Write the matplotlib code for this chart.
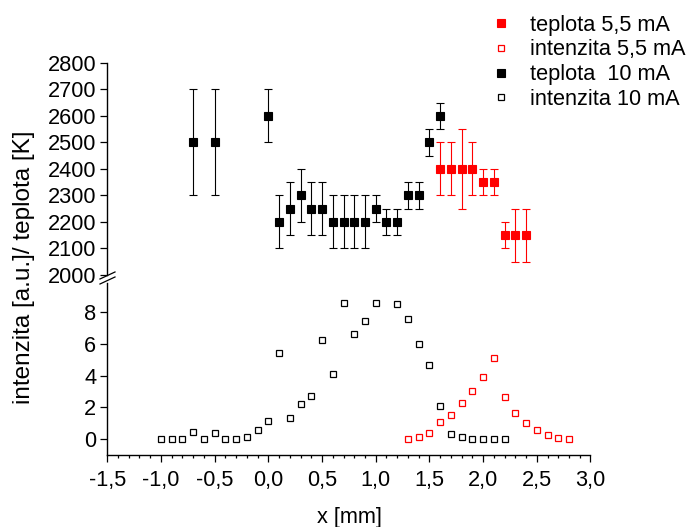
import numpy as np
import matplotlib.pyplot as plt
from matplotlib.lines import Line2D

plt.rcParams['font.family'] = ['Liberation Sans', 'DejaVu Sans']
plt.rcParams['font.size'] = 15.7

# teplota 10 mA  [K]
x_t10 = [-0.7, -0.5, 0.0, 0.1, 0.2, 0.3, 0.4, 0.5, 0.6, 0.7, 0.8, 0.9, 1.0, 1.1, 1.2, 1.3, 1.4, 1.5, 1.6]
t10 = [2500, 2500, 2600, 2200, 2250, 2300, 2250, 2250, 2200, 2200, 2200, 2200, 2250, 2200, 2200, 2300, 2300, 2500, 2600]
t10_err = [200, 200, 100, 100, 100, 100, 100, 100, 100, 100, 100, 100, 50, 50, 50, 50, 50, 50, 50]

# teplota 5,5 mA  [K]
x_t55 = [1.6, 1.7, 1.8, 1.9, 2.0, 2.1, 2.2, 2.3, 2.4]
t55 = [2400, 2400, 2400, 2400, 2350, 2350, 2150, 2150, 2150]
t55_err = [100, 100, 150, 100, 50, 50, 50, 100, 100]

# intenzita 10 mA  [a.u.]
x_i10 = [-1.0, -0.9, -0.8, -0.7, -0.6, -0.5, -0.4, -0.3, -0.2, -0.1, 0.0, 0.1, 0.2, 0.3, 0.4, 0.5,
         0.6, 0.7, 0.8, 0.9, 1.0, 1.2, 1.3, 1.4, 1.5, 1.6, 1.7, 1.8, 1.9, 2.0, 2.1, 2.2]
i10 = [0.0, 0.0, 0.0, 0.42, 0.0, 0.36, 0.0, 0.0, 0.13, 0.55, 1.16, 5.45, 1.35, 2.21, 2.70, 6.25,
       4.08, 8.57, 6.65, 7.43, 8.57, 8.52, 7.60, 5.98, 4.67, 2.10, 0.30, 0.11, 0.02, 0.02, 0.0, 0.0]

# intenzita 5,5 mA  [a.u.]
x_i55 = [1.3, 1.4, 1.5, 1.6, 1.7, 1.8, 1.9, 2.0, 2.1, 2.2, 2.3, 2.4, 2.5, 2.6, 2.7, 2.8]
i55 = [0.0, 0.15, 0.36, 1.09, 1.53, 2.25, 3.01, 3.93, 5.13, 2.65, 1.64, 1.03, 0.59, 0.25, 0.06, 0.0]

x_ticks = [-1.5, -1.0, -0.5, 0.0, 0.5, 1.0, 1.5, 2.0, 2.5, 3.0]
x_ticklabels = ['-1,5', '-1,0', '-0,5', '0,0', '0,5', '1,0', '1,5', '2,0', '2,5', '3,0']
t_ticks = [2000, 2100, 2200, 2300, 2400, 2500, 2600, 2700, 2800]
i_ticks = [0, 2, 4, 6, 8]

RED = '#ff0000'

fig = plt.figure(figsize=(6.89, 5.27), dpi=100)
ax_t = fig.add_axes([0.1557, 0.4782, 0.7013, 0.4028])
ax_i = fig.add_axes([0.1557, 0.1366, 0.7013, 0.3264])

for ax in (ax_t, ax_i):
    ax.set_xlim(-1.5, 3.0)
    ax.spines['top'].set_visible(False)
    ax.spines['right'].set_visible(False)
    ax.spines['left'].set_linewidth(1.0)
    ax.spines['bottom'].set_linewidth(1.0)
    ax.tick_params(direction='out', length=5, width=0.9, pad=3)

# horni cast - teplota
ax_t.spines['bottom'].set_visible(False)
ax_t.tick_params(axis='x', bottom=False, labelbottom=False)
ax_t.set_ylim(2000, 2800)
ax_t.set_yticks(t_ticks)

ax_t.errorbar(x_t10, t10, yerr=t10_err, fmt='none', ecolor='k', elinewidth=0.8,
              capsize=2.6, capthick=0.8, zorder=2)
ax_t.errorbar(x_t55, t55, yerr=t55_err, fmt='none', ecolor=RED, elinewidth=0.8,
              capsize=2.6, capthick=0.8, zorder=2)
h_t10, = ax_t.plot(x_t10, t10, 's', color='k', ms=5.2, mew=0.8, zorder=3, label='teplota  10 mA')
h_t55, = ax_t.plot(x_t55, t55, 's', color=RED, ms=5.2, mew=0.8, zorder=3, label='teplota 5,5 mA')

# dolni cast - intenzita
ax_i.set_ylim(-1.0, 9.85)
ax_i.set_yticks(i_ticks)
ax_i.set_xticks(x_ticks)
ax_i.set_xticklabels(x_ticklabels)
ax_i.set_xticks(np.arange(-1.5, 3.01, 0.1), minor=True)
ax_i.tick_params(axis='x', which='major', pad=6)
ax_i.tick_params(axis='x', which='minor', direction='out', length=2.5, width=0.9)

h_i10, = ax_i.plot(x_i10, i10, 's', mfc='none', mec='k', ms=5, mew=0.9, label='intenzita 10 mA')
h_i55, = ax_i.plot(x_i55, i55, 's', mfc='none', mec=RED, ms=5, mew=0.9, label='intenzita 5,5 mA')

# preruseni osy
fig.add_artist(Line2D([0.1451, 0.1669], [0.4706, 0.4839], color='k', lw=0.9, transform=fig.transFigure))
fig.add_artist(Line2D([0.1451, 0.1669], [0.4611, 0.4744], color='k', lw=0.9, transform=fig.transFigure))

fig.text(349 / 689, 1 - 517 / 527, 'x [mm]', ha='center', va='center')
fig.text(24 / 689, 1 - 267 / 527, 'intenzita [a.u.]/ teplota [K]', rotation=90,
         ha='center', va='center', fontsize=17.5)

fig.legend(handles=[h_t55, h_i55, h_t10, h_i10], loc='upper left',
           bbox_to_anchor=(490 / 689, 0.972), frameon=False, borderpad=0, borderaxespad=0,
           handlelength=1.0, handletextpad=0.85, labelspacing=0.17)

fig.savefig('out.png', dpi=100)
